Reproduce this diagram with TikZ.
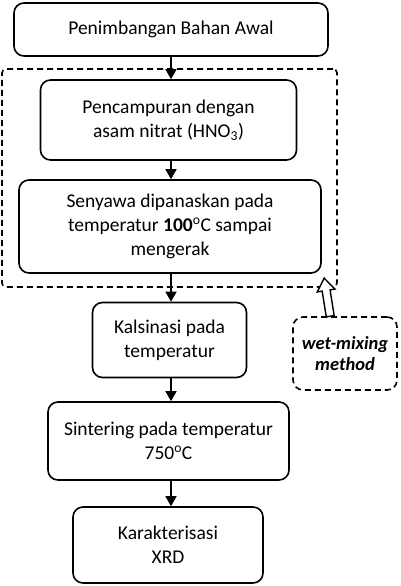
\documentclass[tikz,border=0pt]{standalone}
\usepackage{fontspec}
\setmainfont{Carlito}
\usetikzlibrary{arrows.meta,calc}
\begin{document}
\begin{tikzpicture}[x=1pt,y=1pt,
  box/.style={draw, line width=1.6pt, rounded corners=10pt, align=center, inner sep=0pt,
    font=\fontsize{19.5}{24}\selectfont},
  arr/.style={line width=1.6pt, -{Triangle[width=11pt,length=10pt]}},
  dashframe/.style={draw, line width=1.6pt, dash pattern=on 6pt off 4pt, inner sep=0pt},
  hollow/.style={draw, line width=1.4pt, fill=white, line join=miter}]
\useasboundingbox (0,0) rectangle (400,586);
\node[dashframe, rounded corners=4pt, minimum width=335, minimum height=218] (frame) at (169.5,408) {};
\node[box, minimum width=314, minimum height=53] (b1) at (171,556.5) {Penimbangan Bahan Awal};
\node[box, minimum width=256, minimum height=80] (b2) at (168.5,466) {Pencampuran dengan\\asam nitrat (HNO\textsubscript{3})};
\node[box, minimum width=302, minimum height=93] (b3) at (170,359.5) {Senyawa dipanaskan pada\\temperatur \textbf{100}\textsuperscript{o}C sampai\\mengerak};
\node[box, minimum width=154, minimum height=75] (b4) at (169.5,246) {Kalsinasi pada\\temperatur};
\node[box, minimum width=241, minimum height=78] (b5) at (168.5,145) {Sintering pada temperatur\\750\textsuperscript{o}C};
\node[box, minimum width=190, minimum height=76] (b6) at (168,41) {Karakterisasi\\XRD};
\node[dashframe, rounded corners=10pt, align=center, minimum width=104, minimum height=73,
  font=\fontsize{18.5}{21}\selectfont\bfseries\itshape] (wet) at (345,232.5) {wet-mixing\\method};
\draw[arr] (b1.south) -- (b1.south |- b2.north);
\draw[arr] (b1.south |- b2.south) -- (b1.south |- b3.north);
\draw[arr] (b1.south |- b3.south) -- (b1.south |- b4.north);
\draw[arr] (b1.south |- b4.south) -- (b1.south |- b5.north);
\draw[arr] (b1.south |- b5.south) -- (b1.south |- b6.north);
\coordinate (hb) at ($(wet.north west)+(38,0)$);
\begin{scope}[shift={(hb)}, rotate=9]
  \draw[hollow] (-4,0) -- (-4,26) -- (-9,26) -- (0,38.5) -- (9,26) -- (4,26) -- (4,0) -- cycle;
\end{scope}
\end{tikzpicture}
\end{document}
